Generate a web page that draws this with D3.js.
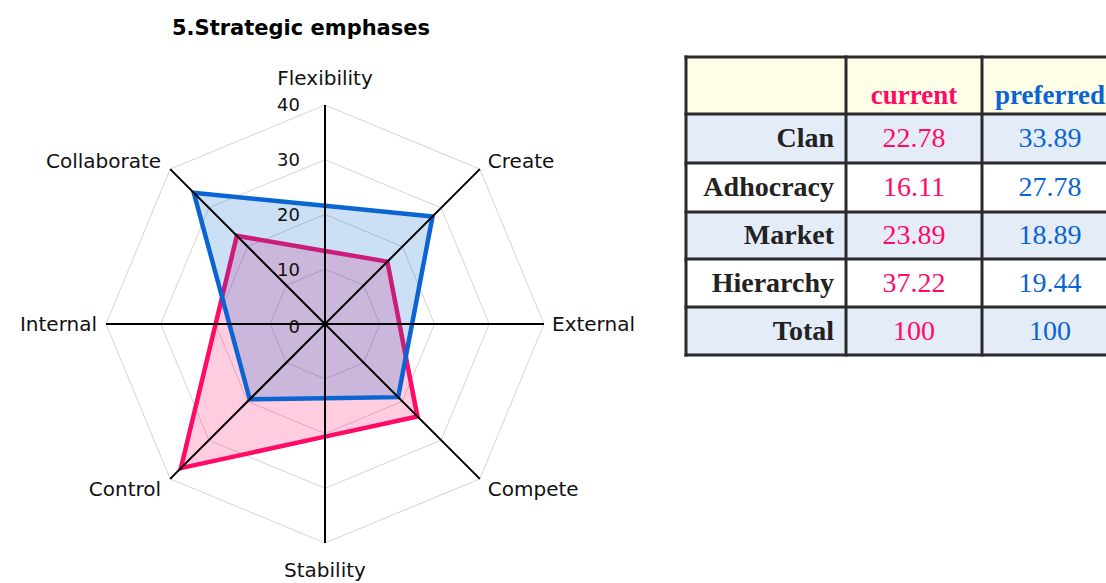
<!DOCTYPE html>
<html lang="en">
<head>
<meta charset="UTF-8">
<title>Strategic emphases</title>
<script src="https://d3js.org/d3.v7.min.js"></script>
<style>
    body { margin: 0; background: #fff; }
    svg { display: block; }
    .axislabel { font-family: "DejaVu Sans", sans-serif; font-size: 20px; fill: #111; }
    .tick { font-family: "DejaVu Sans", sans-serif; font-size: 18px; fill: #111; }
    .cell { font-family: "Liberation Serif", serif; }
</style>
</head>
<body>
<div id="chart"></div>
<script>
// radar axes, clockwise from the top
var axes = ["Flexibility", "Create", "External", "Compete", "Stability", "Control", "Internal", "Collaborate"];
var currentRadar = [13.34, 16.11, 13.60, 23.89, 20.57, 37.22, 19.98, 22.78];
var preferredRadar = [21.59, 27.78, 15.90, 18.89, 13.55, 19.44, 17.47, 33.89];
var ticks = [0, 10, 20, 30, 40];

// table
var cultures = ["Clan", "Adhocracy", "Market", "Hierarchy", "Total"];
var currentVals = ["22.78", "16.11", "23.89", "37.22", "100"];
var preferredVals = ["33.89", "27.78", "18.89", "19.44", "100"];

var PINK = "#ff0a66", BLUE = "#0a64d2";

var svg = d3.select("#chart").append("svg")
    .attr("width", 1106)
    .attr("height", 583);

svg.append("text")
    .attr("x", 301).attr("y", 35)
    .attr("text-anchor", "middle")
    .style("font-family", "DejaVu Sans, sans-serif")
    .style("font-weight", "bold")
    .style("font-size", "21px")
    .text("5.Strategic emphases");

var cx = 325, cy = 324, R = 219;
var r = d3.scaleLinear().domain([0, 40]).range([0, R]);
var angle = d3.scalePoint().domain(axes).range([0, 2 * Math.PI * 7 / 8]);

var g = svg.append("g").attr("transform", "translate(" + cx + "," + cy + ")");

function pt(name, v) {
    var a = angle(name);
    return [Math.sin(a) * r(v), -Math.cos(a) * r(v)];
}

// grid octagons
g.selectAll(".grid")
    .data(ticks.slice(1))
    .enter().append("polygon")
    .attr("points", function(t) { return axes.map(function(a) { return pt(a, t).join(","); }).join(" "); })
    .attr("fill", "none")
    .attr("stroke", "#d4d4d4")
    .attr("stroke-width", 1);

var radial = d3.lineRadial()
    .angle(function(d, i) { return angle(axes[i]); })
    .radius(function(d) { return r(d); })
    .curve(d3.curveLinearClosed);

g.append("path")
    .attr("d", radial(currentRadar))
    .attr("fill", "rgba(255,0,102,0.2)")
    .attr("stroke", PINK)
    .attr("stroke-width", 4.5)
    .attr("stroke-linejoin", "miter");

g.append("path")
    .attr("d", radial(preferredRadar))
    .attr("fill", "rgba(0,102,204,0.2)")
    .attr("stroke", BLUE)
    .attr("stroke-width", 4.5)
    .attr("stroke-linejoin", "miter");

// axis lines
g.selectAll(".axis")
    .data(axes)
    .enter().append("line")
    .attr("x1", 0).attr("y1", 0)
    .attr("x2", function(d) { return pt(d, 40)[0]; })
    .attr("y2", function(d) { return pt(d, 40)[1]; })
    .attr("stroke", "#000")
    .attr("stroke-width", 2);

// tick labels
g.selectAll(".tick")
    .data(ticks)
    .enter().append("text")
    .attr("class", "tick")
    .attr("x", -25)
    .attr("y", function(d) { return -r(d) + (d === 0 ? 3 : 0); })
    .attr("dy", "0.36em")
    .attr("text-anchor", "end")
    .text(function(d) { return d; });

// axis labels
g.selectAll(".axislabel")
    .data(axes)
    .enter().append("text")
    .attr("class", "axislabel")
    .attr("x", function(d) {
        var p = pt(d, 40), s = Math.sin(angle(d));
        return p[0] + (Math.abs(s) < 0.01 ? 0 : (s > 0 ? 8 : -9));
    })
    .attr("y", function(d) {
        var p = pt(d, 40), c = Math.cos(angle(d));
        if (c > 0.9) return p[1] - 27;
        if (c < -0.9) return p[1] + 27;
        if (c > 0.1) return p[1] - 8;
        if (c < -0.1) return p[1] + 10;
        return p[1];
    })
    .attr("dy", "0.36em")
    .attr("text-anchor", function(d) {
        var s = Math.sin(angle(d));
        return Math.abs(s) < 0.01 ? "middle" : (s > 0 ? "start" : "end");
    })
    .text(function(d) { return d; });

// table
var colX = [686, 846, 982, 1118];
var rowY = [57, 114, 163, 212, 259, 307, 355];
var rowFill = ["#e4ecf8", "#ffffff", "#e4ecf8", "#ffffff", "#e4ecf8"];

var tbl = svg.append("g");

tbl.append("rect")
    .attr("x", colX[0]).attr("y", rowY[0])
    .attr("width", colX[3] - colX[0]).attr("height", rowY[1] - rowY[0])
    .attr("fill", "#fffee6");

tbl.selectAll(".rowbg")
    .data(cultures)
    .enter().append("rect")
    .attr("x", colX[0]).attr("y", function(d, i) { return rowY[i + 1]; })
    .attr("width", colX[3] - colX[0])
    .attr("height", function(d, i) { return rowY[i + 2] - rowY[i + 1]; })
    .attr("fill", function(d, i) { return rowFill[i]; });

tbl.selectAll(".hline")
    .data(rowY)
    .enter().append("line")
    .attr("x1", colX[0] - 1.5).attr("x2", colX[3])
    .attr("y1", function(d) { return d; }).attr("y2", function(d) { return d; })
    .attr("stroke", "#2a2a2a").attr("stroke-width", 3);

tbl.selectAll(".vline")
    .data(colX)
    .enter().append("line")
    .attr("y1", rowY[0] - 1.5).attr("y2", rowY[6] + 1.5)
    .attr("x1", function(d) { return d; }).attr("x2", function(d) { return d; })
    .attr("stroke", "#2a2a2a").attr("stroke-width", 3);

var hdr = [["current", PINK, (colX[1] + colX[2]) / 2], ["preferred", BLUE, (colX[2] + colX[3]) / 2]];
tbl.selectAll(".hdr")
    .data(hdr)
    .enter().append("text")
    .attr("class", "cell")
    .attr("x", function(d) { return d[2]; })
    .attr("y", 104)
    .attr("text-anchor", "middle")
    .style("font-size", "27px")
    .style("font-weight", "bold")
    .attr("fill", function(d) { return d[1]; })
    .text(function(d) { return d[0]; });

function rowMid(i) { return (rowY[i + 1] + rowY[i + 2]) / 2; }

tbl.selectAll(".lab")
    .data(cultures)
    .enter().append("text")
    .attr("class", "cell")
    .attr("x", colX[1] - 12)
    .attr("y", function(d, i) { return rowMid(i); })
    .attr("dy", "0.32em")
    .attr("text-anchor", "end")
    .style("font-size", "28px")
    .style("font-weight", "bold")
    .attr("fill", "#222")
    .text(function(d) { return d; });

tbl.selectAll(".cur")
    .data(currentVals)
    .enter().append("text")
    .attr("class", "cell")
    .attr("x", (colX[1] + colX[2]) / 2)
    .attr("y", function(d, i) { return rowMid(i); })
    .attr("dy", "0.32em")
    .attr("text-anchor", "middle")
    .style("font-size", "28px")
    .attr("fill", PINK)
    .text(function(d) { return d; });

tbl.selectAll(".pref")
    .data(preferredVals)
    .enter().append("text")
    .attr("class", "cell")
    .attr("x", (colX[2] + colX[3]) / 2)
    .attr("y", function(d, i) { return rowMid(i); })
    .attr("dy", "0.32em")
    .attr("text-anchor", "middle")
    .style("font-size", "28px")
    .attr("fill", BLUE)
    .text(function(d) { return d; });
</script>
</body>
</html>
